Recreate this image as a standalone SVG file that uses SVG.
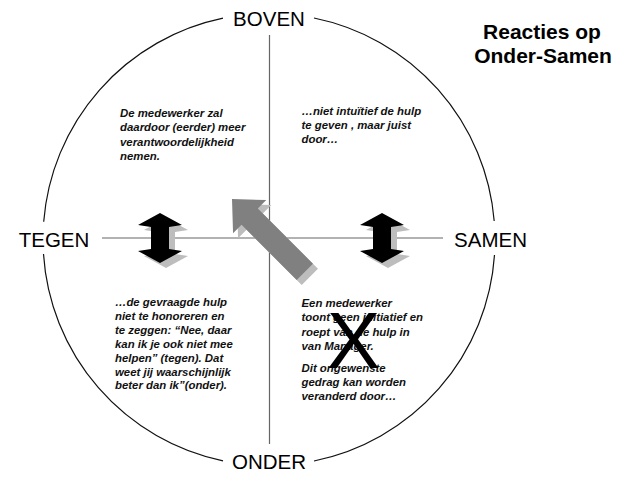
<svg xmlns="http://www.w3.org/2000/svg" width="638" height="478" viewBox="0 0 638 478">
<style>
.axis{font-family:"Liberation Sans",Arial,sans-serif;font-size:20.5px;fill:#000;text-anchor:middle}
.body{font-family:"Liberation Sans",Arial,sans-serif;font-size:11.4px;font-weight:bold;font-style:italic;fill:#111}
.title{font-family:"Liberation Sans",Arial,sans-serif;font-size:21px;font-weight:bold;fill:#000;text-anchor:middle}
.ring{fill:none;stroke:#111;stroke-width:1.2}
.axisline{stroke:#666;stroke-width:1.2}
.dbl{fill:#000}
.dblsh{fill:#bdbdbd}
</style>
<defs>
<path id="dblarrow" d="M0,-25 L22,-13 L9,-11 L9,11 L22,13 L0,25 L-22,13 L-9,11 L-9,-11 L-22,-13 Z"/>
<path id="bigarrow" d="M0,0 L25,-23.5 L25,-11.5 L103,-11.5 L103,11.5 L25,11.5 L25,23.5 Z"/>
</defs>
<rect width="638" height="478" fill="#fff"/>
<g id="ring">
<path class="ring" d="M223,18.2 A226,226 0 0 0 43.7,221.7"/>
<path class="ring" d="M43.5,254 A226,226 0 0 0 223,460.8"/>
<path class="ring" d="M314,461 A226,226 0 0 0 494.5,255"/>
<path class="ring" d="M494.2,221 A226,226 0 0 0 314,18"/>
</g>
<g id="connectors">
<line class="axisline" x1="269.5" y1="35" x2="269.5" y2="444"/>
<line class="axisline" x1="102" y1="238" x2="443" y2="238"/>
</g>
<g id="boven"><text class="axis" x="269" y="25.7">BOVEN</text></g>
<g id="tegen"><text class="axis" x="54" y="246.7">TEGEN</text></g>
<g id="samen"><text class="axis" x="490.5" y="246.7">SAMEN</text></g>
<g id="onder"><text class="axis" x="269" y="468.7">ONDER</text></g>
<g id="title">
<text class="title" x="542" y="39.3">Reacties op</text>
<text class="title" x="543" y="63.3">Onder-Samen</text>
</g>
<g id="text-topleft">
<text class="body" x="120" y="117">De medewerker zal</text>
<text class="body" x="120" y="131.3">daardoor (eerder) meer</text>
<text class="body" x="120" y="145.6">verantwoordelijkheid</text>
<text class="body" x="120" y="159.6">nemen.</text>
</g>
<g id="text-topright">
<text class="body" x="301.5" y="114.5">…niet intuïtief de hulp</text>
<text class="body" x="301.5" y="128.7">te geven , maar juist</text>
<text class="body" x="301.5" y="142.9">door…</text>
</g>
<g id="text-bottomleft">
<text class="body" x="115" y="306">…de gevraagde hulp</text>
<text class="body" x="115" y="319.9">niet te honoreren en</text>
<text class="body" x="115" y="333.8">te zeggen: “Nee, daar</text>
<text class="body" x="115" y="347.7">kan ik je ook niet mee</text>
<text class="body" x="115" y="361.6">helpen” (tegen). Dat</text>
<text class="body" x="115" y="375.5">weet jij waarschijnlijk</text>
<text class="body" x="115" y="389.4">beter dan ik”(onder).</text>
</g>
<g id="text-bottomright">
<text class="body" x="301.5" y="307">Een medewerker</text>
<text class="body" x="301.5" y="321.3">toont geen initiatief en</text>
<text class="body" x="301.5" y="335.6">roept van de hulp in</text>
<text class="body" x="301.5" y="349.9">van Manager.</text>
<text class="body" x="301.5" y="371.5">Dit ongewenste</text>
<text class="body" x="301.5" y="385.5">gedrag kan worden</text>
<text class="body" x="301.5" y="399.5">veranderd door…</text>
</g>
<g id="cross">
<text x="353.5" y="368" style="font-family:'Liberation Sans',Arial,sans-serif;font-size:80px;fill:#000;text-anchor:middle">X</text>
</g>
<g id="arrow-left">
<use href="#dblarrow" class="dblsh" transform="translate(166,243)"/>
<use href="#dblarrow" class="dbl" transform="translate(160,238)"/>
</g>
<g id="arrow-right">
<use href="#dblarrow" class="dblsh" transform="translate(388,243)"/>
<use href="#dblarrow" class="dbl" transform="translate(382,238)"/>
</g>
<g id="arrow-diagonal">
<use href="#bigarrow" fill="#bdbdbd" transform="translate(237,204) rotate(45)"/>
<use href="#bigarrow" fill="#808080" transform="translate(232,199) rotate(45)"/>
</g>
</svg>
